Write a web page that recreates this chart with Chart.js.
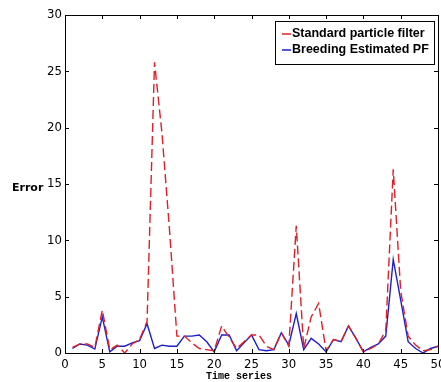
<!DOCTYPE html>
<html>
<head>
<meta charset="utf-8">
<script src="https://cdn.jsdelivr.net/npm/chart.js@4.4.0/dist/chart.umd.min.js"></script>
<style>
  html, body { margin: 0; padding: 0; background: #fff; overflow: hidden; }
  #wrap { width: 441px; height: 382px; overflow: hidden; }
</style>
</head>
<body>
<div id="wrap"><canvas id="chart" width="460" height="382"></canvas></div>
<script>
const timeSteps = [1, 2, 3, 4, 5, 6, 7, 8, 9, 10,
  11, 12, 13, 14, 15, 16, 17, 18, 19, 20,
  21, 22, 23, 24, 25, 26, 27, 28, 29, 30,
  31, 32, 33, 34, 35, 36, 37, 38, 39, 40,
  41, 42, 43, 44, 45, 46, 47, 48, 49, 50];

const standardPF = [0.5, 0.8, 0.8, 0.5, 3.8, 0.3, 0.7, 0.0, 0.8, 1.2,
  2.8, 25.8, 19.5, 11.0, 1.5, 1.5, 0.9, 0.4, 0.3, 0.2,
  2.4, 1.4, 0.4, 1.0, 1.6, 1.6, 0.6, 0.3, 1.8, 0.6,
  11.3, 0.4, 3.2, 4.4, 0.2, 1.2, 1.0, 2.4, 1.3, 0.1,
  0.4, 0.8, 2.0, 16.3, 5.5, 1.5, 0.7, 0.2, 0.3, 0.6];

const breedingPF = [0.4, 0.8, 0.7, 0.35, 3.2, 0.1, 0.6, 0.6, 0.9, 1.1,
  2.6, 0.4, 0.7, 0.6, 0.6, 1.5, 1.5, 1.6, 1.0, 0.1,
  1.6, 1.6, 0.2, 0.9, 1.6, 0.3, 0.2, 0.3, 1.8, 0.7,
  3.5, 0.3, 1.3, 0.8, 0.1, 1.2, 1.0, 2.4, 1.3, 0.1,
  0.5, 0.8, 1.5, 8.3, 4.7, 1.0, 0.4, 0.0, 0.4, 0.6];

const seriesNames = ['Standard particle filter', 'Breeding Estimated PF'];
const xTicks = [0, 5, 10, 15, 20, 25, 30, 35, 40, 45, 50];
const yTicks = [0, 5, 10, 15, 20, 25, 30];

const RED = 'rgb(222,32,40)';
const BLUE = 'rgb(30,30,205)';
const tickFont = "'Liberation Sans Narrow', 'DejaVu Sans Condensed', Arial, sans-serif";

function toPoints(ys) {
  return timeSteps.map((t, i) => ({ x: t, y: ys[i] }));
}

// box, inward ticks, axis labels and legend, matlab style
const matlabFrame = {
  id: 'matlabFrame',
  afterDraw(chart) {
    const { ctx, chartArea: a, scales } = chart;
    ctx.save();
    ctx.strokeStyle = '#000';
    ctx.lineWidth = 1;
    ctx.strokeRect(a.left + 0.5, a.top + 0.5, a.right - a.left, a.bottom - a.top);

    ctx.beginPath();
    xTicks.forEach(v => {
      const px = Math.round(scales.x.getPixelForValue(v)) + 0.5;
      ctx.moveTo(px, a.bottom); ctx.lineTo(px, a.bottom - 4);
      ctx.moveTo(px, a.top); ctx.lineTo(px, a.top + 4);
    });
    yTicks.forEach(v => {
      const py = Math.round(scales.y.getPixelForValue(v)) + 0.5;
      ctx.moveTo(a.left, py); ctx.lineTo(a.left + 4, py);
      ctx.moveTo(a.right, py); ctx.lineTo(a.right - 4, py);
    });
    ctx.stroke();

    ctx.fillStyle = '#000';
    ctx.font = "bold 11px 'DejaVu Sans', sans-serif";
    ctx.textAlign = 'left';
    ctx.textBaseline = 'middle';
    ctx.fillText('Error', 12, 188);

    ctx.font = "bold 10px 'Liberation Mono', 'DejaVu Sans Mono', monospace";
    ctx.textAlign = 'center';
    ctx.fillText('Time series', 239, 376);

    // legend
    const lx = 275, ly = 21, lw = 159, lh = 43;
    ctx.fillStyle = '#fff';
    ctx.fillRect(lx, ly, lw, lh);
    ctx.strokeRect(lx + 0.5, ly + 0.5, lw, lh);
    const rows = [34, 50];
    chart.data.datasets.forEach((ds, i) => {
      ctx.strokeStyle = ds.borderColor;
      ctx.lineWidth = 1.5;
      ctx.beginPath();
      ctx.moveTo(282, rows[i]); ctx.lineTo(291, rows[i]);
      ctx.stroke();
      ctx.fillStyle = '#000';
      ctx.font = "bold 12.5px 'Liberation Sans', Arial, sans-serif";
      ctx.textAlign = 'left';
      ctx.fillText(ds.label, 292, rows[i]);
    });
    ctx.restore();
  }
};

const chart = new Chart(document.getElementById('chart'), {
  type: 'line',
  data: {
    datasets: [{
      label: seriesNames[0],
      data: toPoints(standardPF),
      borderColor: RED,
      borderWidth: 1.4,
      borderDash: [9, 4],
      pointRadius: 0,
      tension: 0
    }, {
      label: seriesNames[1],
      data: toPoints(breedingPF),
      borderColor: BLUE,
      borderWidth: 1.4,
      pointRadius: 0,
      tension: 0
    }]
  },
  options: {
    responsive: false,
    animation: false,
    devicePixelRatio: 1,
    layout: { padding: { left: 0, top: 15, right: 22, bottom: 0 } },
    plugins: {
      legend: { display: false },
      tooltip: { enabled: false }
    },
    scales: {
      x: {
        type: 'linear',
        min: 0,
        max: 50,
        afterFit: s => { s.height = 29; },
        afterBuildTicks: s => { s.ticks = xTicks.map(v => ({ value: v })); },
        grid: { display: false, drawTicks: false, tickLength: 0 },
        border: { display: false },
        ticks: { color: '#000', padding: 4, maxRotation: 0, font: { family: tickFont, size: 13 } }
      },
      y: {
        min: 0,
        max: 30,
        afterFit: s => { s.width = 65; },
        afterBuildTicks: s => { s.ticks = yTicks.map(v => ({ value: v })); },
        grid: { display: false, drawTicks: false, tickLength: 0 },
        border: { display: false },
        ticks: { color: '#000', padding: 3, font: { family: tickFont, size: 13 } }
      }
    }
  },
  plugins: [matlabFrame]
});
</script>
</body>
</html>
